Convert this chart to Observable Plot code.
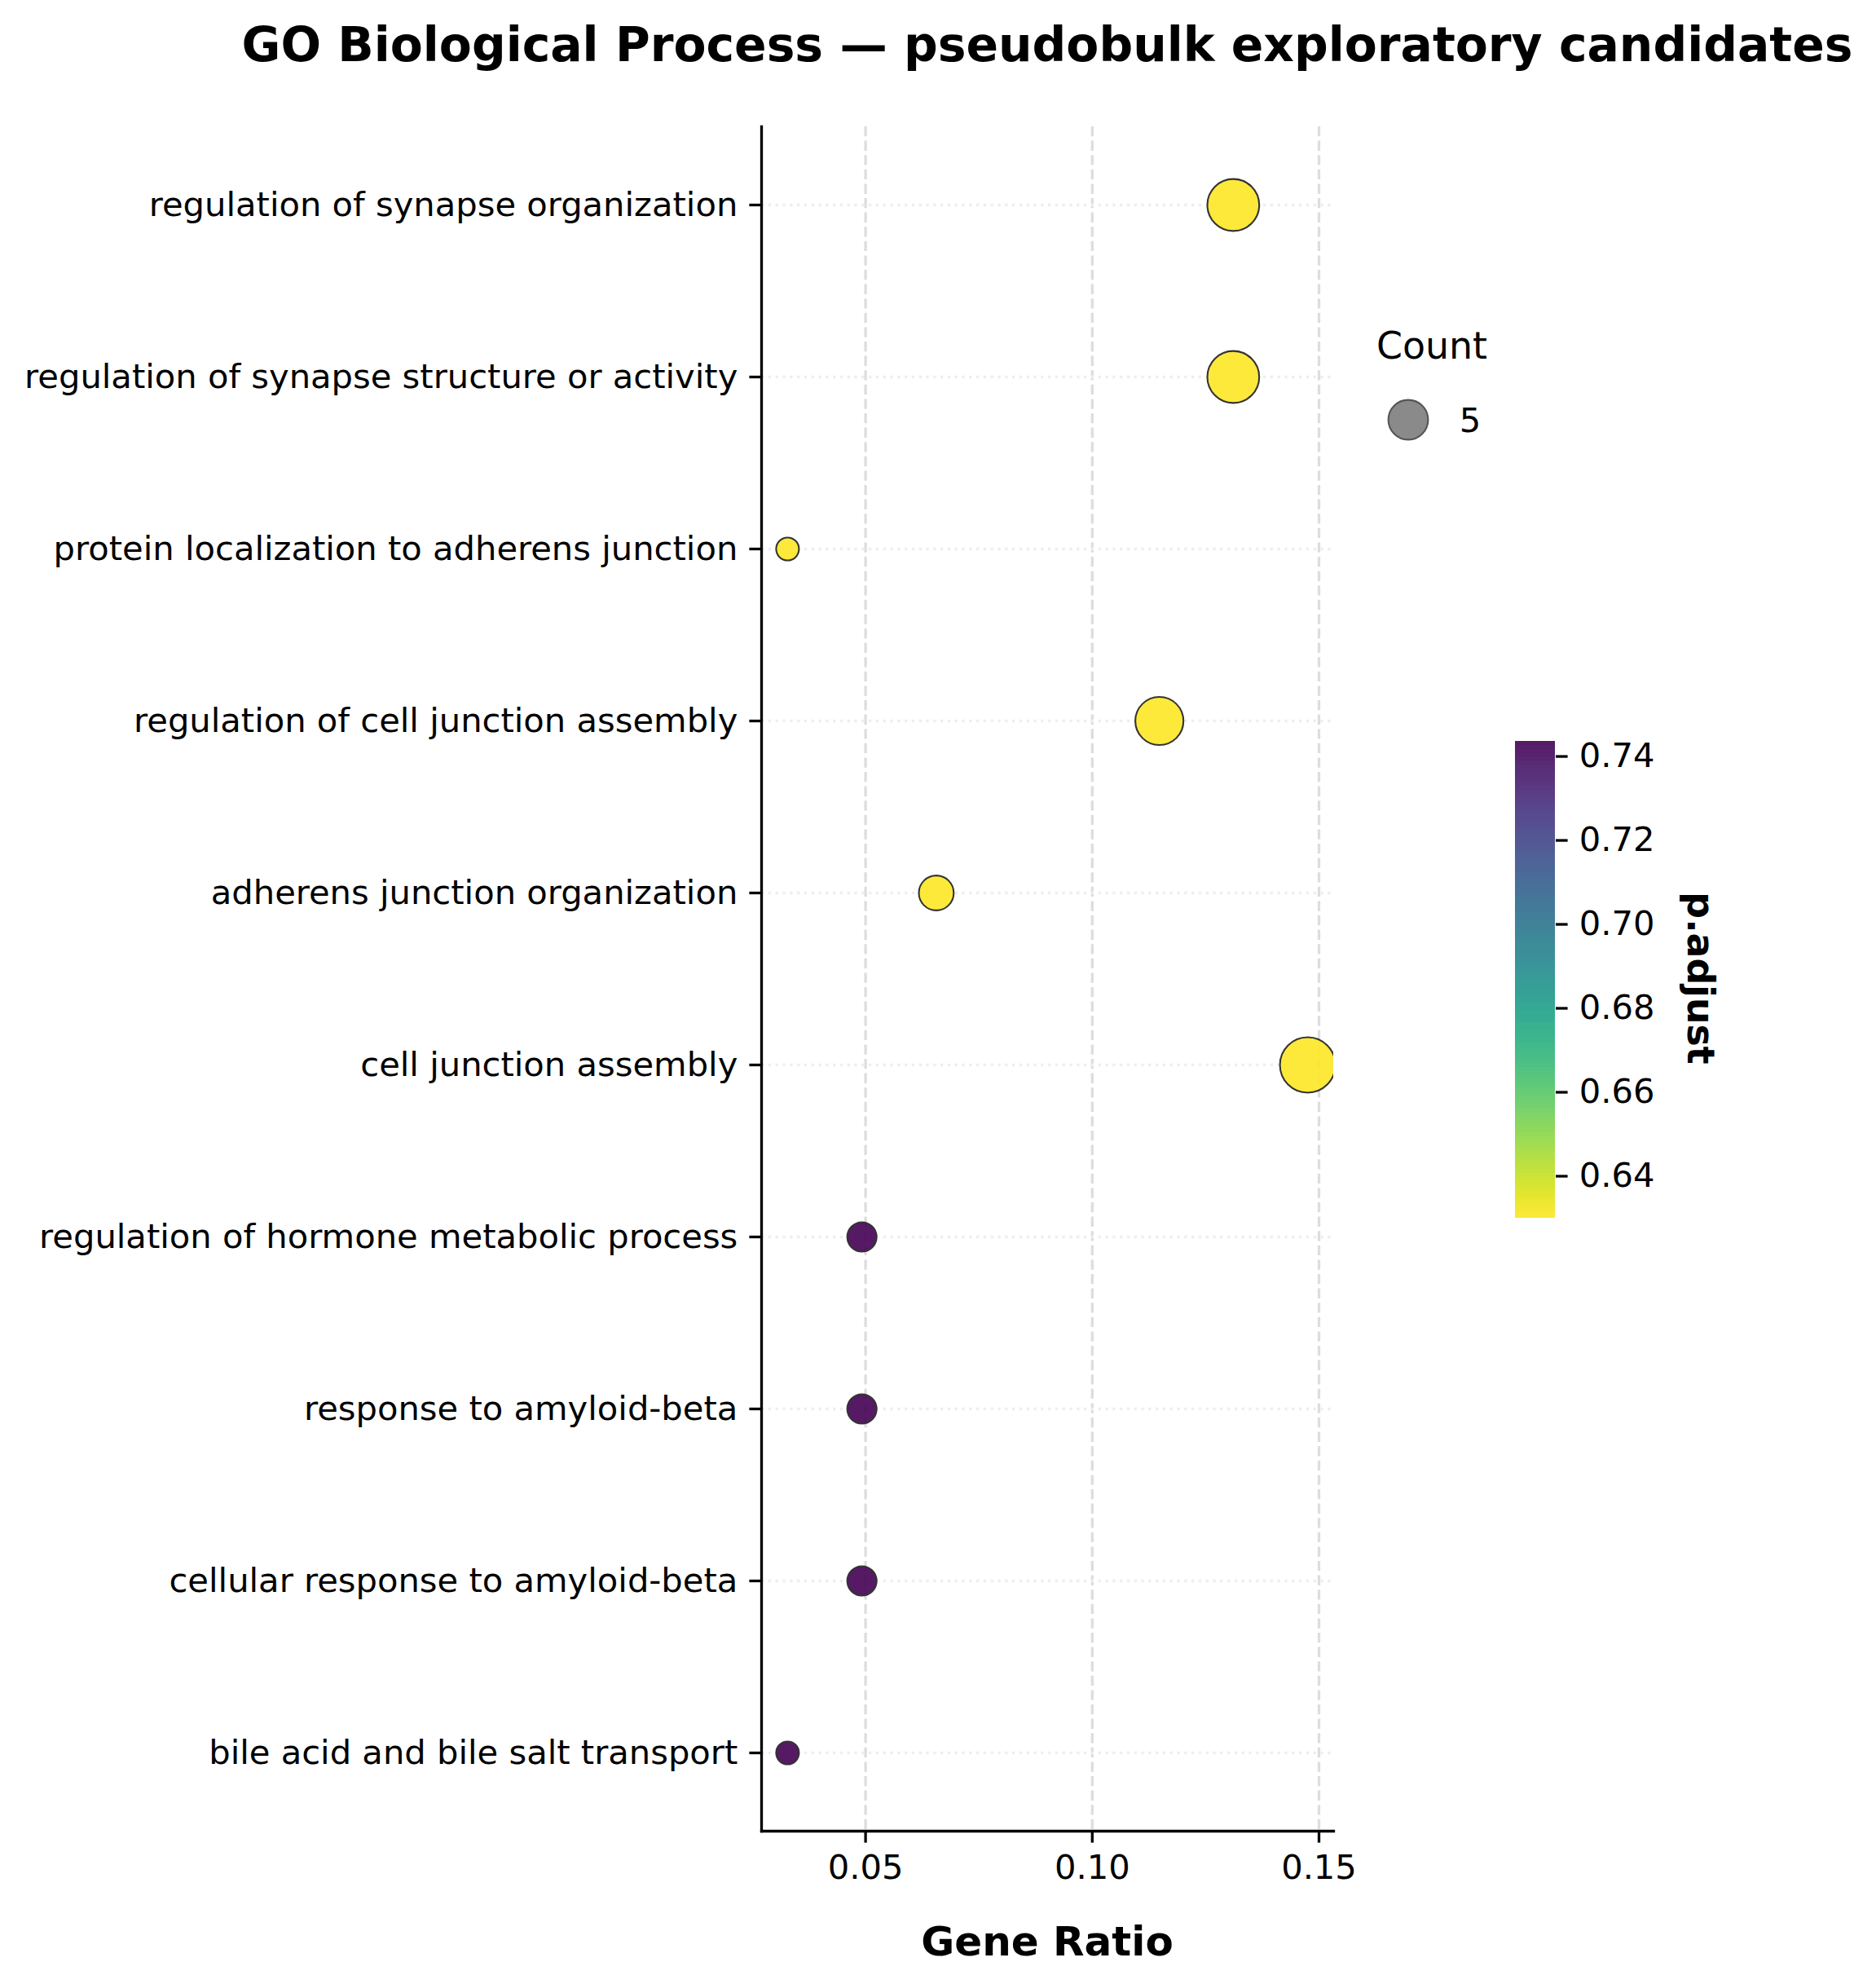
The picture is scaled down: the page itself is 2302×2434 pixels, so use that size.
<!DOCTYPE html>
<html><head><meta charset="utf-8">
<script src="https://cdn.jsdelivr.net/npm/d3@7"></script>
<script src="https://cdn.jsdelivr.net/npm/@observablehq/plot@0.6"></script>
<style>
html,body{margin:0;padding:0;background:#fff;}
#wrap{position:relative;width:2302px;height:2434px;overflow:hidden;font-family:"DejaVu Sans";background:#fff;}
#wrap > svg{position:absolute;left:0;top:0;}
#cbar{position:absolute;left:1839px;top:889px;}
</style></head><body><div id="wrap"><div id="cbar"></div></div>
<script>
// ---- data (top to bottom) ----
const terms = [
  "regulation of synapse organization",
  "regulation of synapse structure or activity",
  "protein localization to adherens junction",
  "regulation of cell junction assembly",
  "adherens junction organization",
  "cell junction assembly",
  "regulation of hormone metabolic process",
  "response to amyloid-beta",
  "cellular response to amyloid-beta",
  "bile acid and bile salt transport"
];
const geneRatio = [0.1311, 0.1311, 0.0328, 0.1148, 0.0656, 0.1475, 0.0492, 0.0492, 0.0492, 0.0328];
const counts    = [8, 8, 2, 7, 4, 9, 3, 3, 3, 2];
const pAdjust   = [0.630, 0.630, 0.630, 0.630, 0.630, 0.630, 0.7436, 0.7436, 0.7436, 0.7436];
const xTicks    = [0.05, 0.10, 0.15];
const cbarTicks = [0.64, 0.66, 0.68, 0.70, 0.72, 0.74];
const legendCounts = [5];

const rows = terms.map((t, i) => ({term: t, ratio: geneRatio[i], count: counts[i], padj: pAdjust[i]}));

const W = 2302, H = 2434;
const mL = 934, mR = 666, mT = 155, mB = 188;
const [xmin, xmax] = d3.extent(geneRatio);
const xpad = (xmax - xmin) * 0.05;
const pExt = d3.extent(pAdjust);
const colorOpts = {type: "linear", scheme: "viridis", reverse: true, domain: pExt};
const rOpts = {type: "pow", exponent: 0.5, domain: d3.extent(counts), range: [14, 34]};
const font = "DejaVu Sans";

const main = Plot.plot({
  width: W, height: H,
  marginLeft: mL, marginRight: mR, marginTop: mT, marginBottom: mB,
  style: {fontFamily: font, fontSize: "41.67px", color: "#000", background: "transparent", overflow: "visible"},
  x: {domain: [xmin - xpad, xmax + xpad]},
  y: {type: "point", domain: terms, padding: 0.45},
  color: colorOpts,
  r: rOpts,
  marks: [
    Plot.gridX({ticks: xTicks, stroke: "#dddddd", strokeOpacity: 1, strokeWidth: 3.3, strokeDasharray: "12.3,5.3"}),
    Plot.gridY({stroke: "#eeeeee", strokeOpacity: 1, strokeWidth: 3.3, strokeDasharray: "3.3,5.5"}),
    Plot.dot(rows, {x: "ratio", y: "term", r: "count", fill: "padj", fillOpacity: 0.9, stroke: "#333333", strokeWidth: 2.08, clip: true}),
    Plot.axisY({tickSize: 14.6, tickPadding: 14.6, strokeWidth: 3.3, label: null, fontSize: 41.67}),
    Plot.axisX({ticks: xTicks, tickSize: 14.6, tickPadding: 14.6, strokeWidth: 3.3, label: null, tickFormat: d3.format(".2f"), fontSize: 41.67}),
    Plot.frame({anchor: "left", strokeWidth: 3.3}),
    Plot.frame({anchor: "bottom", strokeWidth: 3.3})
  ]
});
document.getElementById("wrap").appendChild(main);

const svg = d3.select(main);
const cx = (mL + (W - mR)) / 2;
svg.append("text").attr("x", cx).attr("y", 75).attr("text-anchor", "middle")
  .attr("font-family", font).attr("font-weight", "bold").attr("font-size", "58.33px").attr("fill", "#000")
  .text("GO Biological Process \u2014 pseudobulk exploratory candidates");
svg.append("text").attr("x", cx).attr("y", 2399).attr("text-anchor", "middle")
  .attr("font-family", font).attr("font-weight", "bold").attr("font-size", "50px").attr("fill", "#000")
  .text("Gene Ratio");
svg.append("text").attr("transform", "translate(2087,1200) rotate(90)").attr("text-anchor", "middle")
  .attr("dominant-baseline", "central")
  .attr("font-family", font).attr("font-weight", "bold").attr("font-size", "45.8px").attr("fill", "#000")
  .text("p.adjust");

// size legend
const rScale = main.scale("r");
svg.append("text").attr("x", 1757).attr("y", 440).attr("text-anchor", "middle")
  .attr("font-family", font).attr("font-size", "45.8px").attr("fill", "#000").text("Count");
legendCounts.forEach((c, i) => {
  svg.append("circle").attr("cx", 1728).attr("cy", 515 + i * 90).attr("r", rScale.apply(c))
    .attr("fill", "#8a8a8a").attr("stroke", "#555").attr("stroke-width", 2.08);
  svg.append("text").attr("x", 1804).attr("y", 530 + i * 90)
    .attr("font-family", font).attr("font-size", "41.67px").attr("fill", "#000").text(String(c));
});

// colorbar
const N = 117;
const stripes = d3.range(N).map(i => ({
  a: pExt[0] + i * (pExt[1] - pExt[0]) / N,
  b: pExt[0] + (i + 1) * (pExt[1] - pExt[0]) / N,
  m: pExt[0] + (i + 0.5) * (pExt[1] - pExt[0]) / N
}));
const cb = Plot.plot({
  width: 400, height: 625, marginLeft: 20, marginRight: 331, marginTop: 20, marginBottom: 20,
  style: {fontFamily: font, fontSize: "41.67px", color: "#000", background: "transparent", overflow: "visible"},
  x: {domain: [0, 1], axis: null},
  y: {domain: pExt},
  color: colorOpts,
  marks: [
    Plot.rect(stripes, {x1: () => 0, x2: () => 1, y1: "a", y2: "b", fill: "m", fillOpacity: 0.9}),
    Plot.axisY({ticks: cbarTicks, anchor: "right", tickSize: 14.6, tickPadding: 14.6, strokeWidth: 3.3, tickFormat: d3.format(".2f"), label: null, fontSize: 41.67})
  ]
});
document.getElementById("cbar").appendChild(cb);
</script>
</body></html>
